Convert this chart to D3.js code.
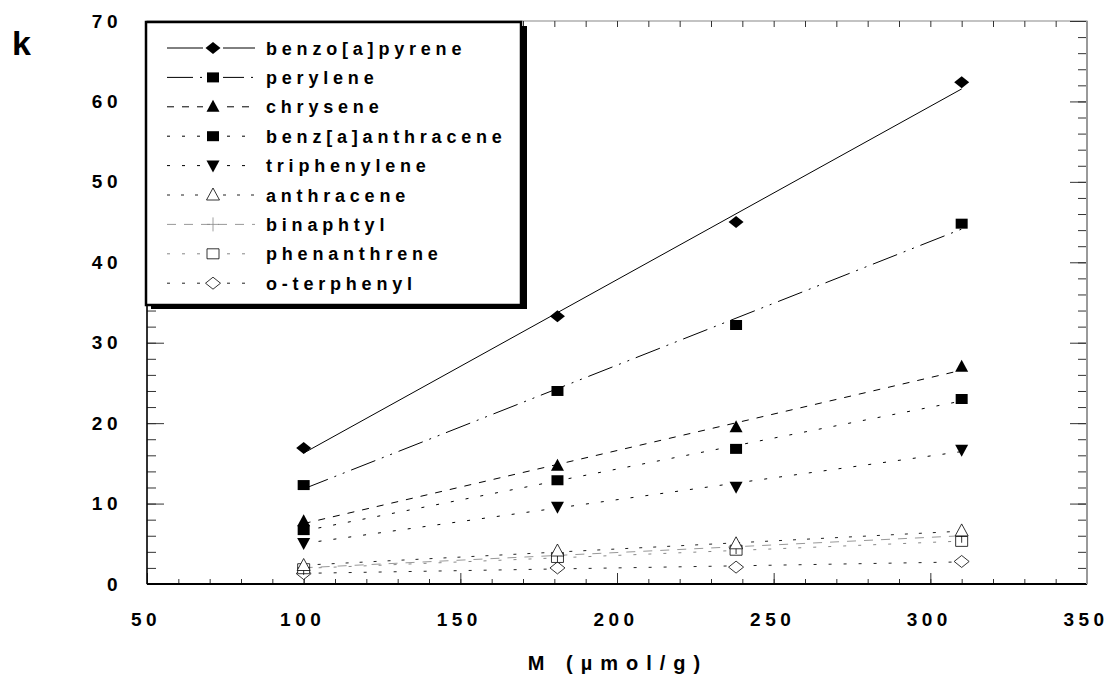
<!DOCTYPE html>
<html>
<head>
<meta charset="utf-8">
<script src="https://cdn.jsdelivr.net/npm/d3@7"></script>
<style>
	html, body { margin: 0; padding: 0; background: #fff; }
	svg { display: block; font-family: "Liberation Sans", Arial, sans-serif; }
</style>
</head>
<body>
<div id="chart"></div>
<script>
// x values (M, umol/g) shared by every series
const loadings = [100, 181, 238, 310];

// k values
const benzoPyrene = [16.9, 33.3, 45.0, 62.4];
const perylene = [12.3, 24.0, 32.2, 44.8];
const chrysene = [7.8, 14.7, 19.5, 27.0];
const benzAnthracene = [6.7, 12.9, 16.8, 23.0];
const triphenylene = [5.1, 9.6, 12.1, 16.7];
const anthracene = [2.3, 4.1, 5.0, 6.6];
const binaphtyl = [2.0, 3.6, 4.6, 6.0];
const phenanthrene = [1.9, 3.3, 4.2, 5.3];
const oTerphenyl = [1.3, 2.0, 2.1, 2.8];

const seriesNames = ['benzo[a]pyrene', 'perylene', 'chrysene', 'benz[a]anthracene', 'triphenylene',
	'anthracene', 'binaphtyl', 'phenanthrene', 'o-terphenyl'];
const seriesValues = [benzoPyrene, perylene, chrysene, benzAnthracene, triphenylene,
	anthracene, binaphtyl, phenanthrene, oTerphenyl];

// tick values
const xMajorTicks = [50, 100, 150, 200, 250, 300, 350];
const yMajorTicks = [0, 10, 20, 30, 40, 50, 60, 70];

(function() {
	const width = 1109, height = 686;
	const margin = { top: 21, right: 22, bottom: 102, left: 147 };
	const plotW = width - margin.left - margin.right;
	const plotH = height - margin.top - margin.bottom;
	const fontFamily = '"Liberation Sans", Arial, sans-serif';

	// marker, dash and colour per series
	const styles = [
		{ marker: 'diamond', fill: '#000', dash: null, stroke: '#000' },
		{ marker: 'square', fill: '#000', dash: '26,7,2,7,2,7', stroke: '#000' },
		{ marker: 'triUp', fill: '#000', dash: '7,8', stroke: '#000' },
		{ marker: 'square', fill: '#000', dash: '3,12', stroke: '#000' },
		{ marker: 'triDown', fill: '#000', dash: '3,12', stroke: '#000' },
		{ marker: 'triUp', fill: '#fff', dash: '3,11', stroke: '#222' },
		{ marker: 'plus', fill: 'none', dash: '9,8', stroke: '#999' },
		{ marker: 'square', fill: '#fff', dash: '3,12', stroke: '#888' },
		{ marker: 'diamond', fill: '#fff', dash: '3,12', stroke: '#222' }
	];

	function markerPath(type) {
		switch (type) {
			case 'diamond': return 'M-7.5,0L0,-6L7.5,0L0,6Z';
			case 'square': return 'M-6,-5H6V5H-6Z';
			case 'triUp': return 'M0,-7L6.5,5H-6.5Z';
			case 'triDown': return 'M0,7L6.5,-5H-6.5Z';
			case 'plus': return 'M-6,0H6M0,-7V7';
		}
	}

	const svg = d3.select('#chart').append('svg')
		.attr('width', width)
		.attr('height', height);

	const g = svg.append('g')
		.attr('transform', 'translate(' + margin.left + ',' + margin.top + ')');

	const x = d3.scaleLinear().domain([50, 350]).range([0, plotW]);
	const y = d3.scaleLinear().domain([0, 70]).range([plotH, 0]);

	// frame
	g.append('rect')
		.attr('width', plotW)
		.attr('height', plotH)
		.attr('fill', 'none')
		.attr('stroke', '#888')
		.attr('stroke-width', 1);

	// minor ticks
	const xMinor = d3.range(50, 351, 10);
	const yMinor = d3.range(0, 71, 2);

	function styleAxis(sel) {
		sel.attr('font-family', null).attr('font-size', null);
		sel.select('.domain').remove();
		sel.selectAll('.tick line').attr('stroke', '#333').attr('stroke-width', 1);
	}

	g.append('g').attr('transform', 'translate(0,' + plotH + ')')
		.call(d3.axisBottom(x).tickValues(xMinor).tickSizeInner(-5).tickSizeOuter(0).tickFormat(''))
		.call(styleAxis);
	g.append('g')
		.call(d3.axisTop(x).tickValues(xMinor).tickSizeInner(-6).tickSizeOuter(0).tickFormat(''))
		.call(styleAxis);
	g.append('g').attr('transform', 'translate(' + plotW + ',0)')
		.call(d3.axisRight(y).tickValues(yMinor).tickSizeInner(-9).tickSizeOuter(0).tickFormat(''))
		.call(styleAxis);
	g.append('g').attr('transform', 'translate(' + plotW + ',0)')
		.call(d3.axisRight(y).tickValues(yMajorTicks).tickSizeInner(-17).tickSizeOuter(0).tickFormat(''))
		.call(styleAxis);
	g.append('g')
		.call(d3.axisLeft(y).tickValues(yMinor).tickSizeInner(-9).tickSizeOuter(0).tickFormat(''))
		.call(styleAxis);

	const tickSpacing = 4.5;

	function styleLabels(sel) {
		sel.selectAll('text')
			.style('font-family', fontFamily)
			.style('font-size', '19px')
			.style('font-weight', 'bold')
			.style('letter-spacing', tickSpacing + 'px')
			.attr('fill', '#000');
	}

	// bottom axis with labels
	const xAxisG = g.append('g').attr('transform', 'translate(0,' + plotH + ')')
		.call(d3.axisBottom(x).tickValues(xMajorTicks).tickSizeInner(-11).tickSizeOuter(0).tickPadding(29));
	xAxisG.call(styleAxis).call(styleLabels);
	xAxisG.selectAll('text').attr('dx', -1.5);

	// left axis with labels
	const yAxisG = g.append('g')
		.call(d3.axisLeft(y).tickValues(yMajorTicks).tickSizeInner(-17).tickSizeOuter(0).tickPadding(25));
	yAxisG.call(styleAxis).call(styleLabels);

	// axis lines
	g.append('line').attr('x1', 0).attr('x2', plotW).attr('y1', plotH).attr('y2', plotH)
		.attr('stroke', '#000').attr('stroke-width', 2);
	g.append('line').attr('x1', plotW).attr('x2', plotW).attr('y1', 0).attr('y2', plotH)
		.attr('stroke', '#999').attr('stroke-width', 2);
	g.append('line').attr('x1', 0).attr('x2', 0).attr('y1', 0).attr('y2', plotH)
		.attr('stroke', '#000').attr('stroke-width', 1.5);

	// fitted lines (least squares through each series)
	function fit(values) {
		const mx = d3.mean(loadings), my = d3.mean(values);
		let sxy = 0, sxx = 0;
		loadings.forEach(function(xv, i) {
			sxy += (xv - mx) * (values[i] - my);
			sxx += (xv - mx) * (xv - mx);
		});
		const slope = sxy / sxx;
		return function(xv) { return my + slope * (xv - mx); };
	}

	const xExtent = d3.extent(loadings);
	const line = d3.line().x(function(d) { return x(d[0]); }).y(function(d) { return y(d[1]); });

	seriesValues.forEach(function(values, i) {
		const f = fit(values);
		const st = styles[i];
		g.append('path')
			.attr('d', line([[xExtent[0], f(xExtent[0])], [xExtent[1], f(xExtent[1])]]))
			.attr('fill', 'none')
			.attr('stroke', st.stroke)
			.attr('stroke-width', 1)
			.attr('stroke-dasharray', st.dash);
	});

	// markers, last series first so the solid ones stay on top
	for (let i = seriesValues.length - 1; i >= 0; i--) {
		const st = styles[i];
		g.append('g').selectAll('path')
			.data(seriesValues[i])
			.enter().append('path')
			.attr('transform', function(d, j) { return 'translate(' + x(loadings[j]) + ',' + y(d) + ')'; })
			.attr('d', markerPath(st.marker))
			.attr('fill', st.fill)
			.attr('stroke', st.fill === '#000' ? 'none' : '#000')
			.attr('stroke-width', 0.8);
	}

	// legend
	const legend = svg.append('g').attr('transform', 'translate(146,22)');
	legend.append('rect')
		.attr('x', 5).attr('y', 4)
		.attr('width', 376).attr('height', 283)
		.attr('fill', '#000');
	legend.append('rect')
		.attr('width', 375).attr('height', 283)
		.attr('fill', '#fff')
		.attr('stroke', '#000')
		.attr('stroke-width', 2.5);

	seriesNames.forEach(function(name, i) {
		const st = styles[i];
		const row = legend.append('g').attr('transform', 'translate(0,' + (26 + i * 29.4) + ')');
		row.append('line')
			.attr('x1', 21).attr('x2', 109)
			.attr('stroke', st.stroke)
			.attr('stroke-width', 1)
			.attr('stroke-dasharray', st.dash);
		if (st.fill !== 'none') {
			row.append('rect').attr('x', 57).attr('y', -7).attr('width', 20).attr('height', 14).attr('fill', '#fff');
		}
		row.append('path')
			.attr('transform', 'translate(67,0)')
			.attr('d', markerPath(st.marker))
			.attr('fill', st.fill)
			.attr('stroke', st.fill === '#000' ? 'none' : (st.marker === 'plus' ? '#888' : '#000'))
			.attr('stroke-width', 0.8);
		row.append('text')
			.attr('x', 120)
			.attr('y', 6.5)
			.style('font-size', '18px')
			.style('font-weight', 'bold')
			.style('letter-spacing', '4.8px')
			.text(name);
	});

	// axis titles
	svg.append('text')
		.attr('x', 12).attr('y', 55)
		.style('font-size', '34px')
		.style('font-weight', 'bold')
		.text('k');

	svg.append('text')
		.attr('x', 618).attr('y', 670)
		.attr('text-anchor', 'middle')
		.style('font-size', '20px')
		.style('font-weight', 'bold')
		.style('letter-spacing', '8px')
		.text('M (µmol/g)');
})();
</script>
</body>
</html>
